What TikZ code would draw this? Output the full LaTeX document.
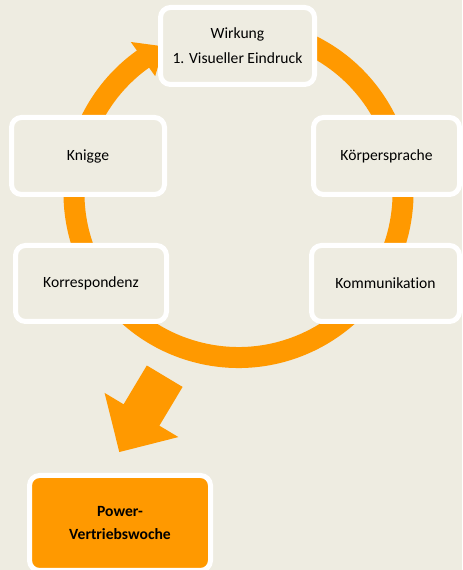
\documentclass[tikz,border=0pt]{standalone}
\usepackage{fontspec}
\setmainfont[Ligatures=NoCommon]{Carlito}
\definecolor{hgrund}{HTML}{EEECE1}
\definecolor{orangeA}{HTML}{FF9900}
\begin{document}
\begin{tikzpicture}[x=0.75pt,y=0.75pt,line cap=butt,line join=miter,font=\fontsize{11.7}{18.7}\selectfont]
		\tikzset{kasten/.style={draw=white,line width=3.75pt,fill=hgrund,rounded corners=7.5pt,
				align=center,inner sep=0pt,text=black},
			ziel/.style={kasten,fill=orangeA,font=\fontsize{11.7}{17.5}\selectfont\bfseries}}
		\def\rmitte{164.5} % Radius des Kreises
		\fill[hgrund] (0,0) rectangle (462,570);
		\useasboundingbox (0,0) rectangle (462,570);
		\coordinate (m) at (238.5,377);
		%--------- Kreispfeil
		\draw[orangeA,line width=15.75pt] ([shift={(75:\rmitte)}]m) arc[start angle=75,end angle=-235,radius=\rmitte];
		\fill[orangeA] ([shift={(125.5:143.5)}]m) -- ([shift={(125.5:185.5)}]m) -- ([shift={(117:\rmitte)}]m) -- cycle;
		%--------- Pfeil nach unten
		\coordinate (pf) at (164.7,193.8);
		\fill[orangeA,shift={(pf)},rotate=239.1] (0,20.85) -- (45.2,20.85) -- (45.2,43) -- (88.4,0)
			-- (45.2,-43) -- (45.2,-20.85) -- (0,-20.85) -- cycle;
		%--------- Kaesten
		\node[kasten,minimum width=115.5pt,minimum height=57.75pt] (wirkung) at (237.5,524) {Wirkung\\1. Visueller Eindruck};
		\node[kasten,minimum width=114.75pt,minimum height=57.75pt] (knigge) at (88,414) {Knigge};
		\node[kasten,minimum width=109.5pt,minimum height=57.75pt] (koerper) at (386.5,414) {Körpersprache};
		\node[kasten,minimum width=113.25pt,minimum height=57pt] (korresp) at (91,286.5) {Korrespondenz};
		\node[kasten,minimum width=111pt,minimum height=57pt] (kommu) at (385.5,286.5) {Kommunikation};
		\node[ziel,minimum width=135.75pt,minimum height=71.25pt] (power) at (120,47) {Power-\\Vertriebswoche};
	\end{tikzpicture}
\end{document}
